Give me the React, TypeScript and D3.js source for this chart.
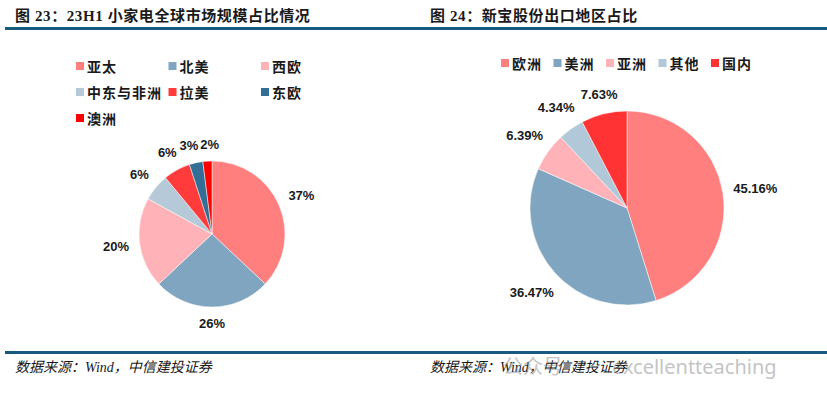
import React, { useEffect } from "react";
import * as d3 from "d3";

// 图23 data
const leftCategories = ["亚太", "北美", "西欧", "中东与非洲", "拉美", "东欧", "澳洲"];
const leftValues = [37, 26, 20, 6, 6, 3, 2];
const leftColors = ["#ff7f7f", "#7fa5c0", "#ffb3b8", "#b6c9d8", "#ff3b3b", "#336e96", "#ff0000"];

// 图24 data
const rightCategories = ["欧洲", "美洲", "亚洲", "其他", "国内"];
const rightValues = [45.16, 36.47, 6.39, 4.34, 7.63];
const rightColors = ["#ff7f7f", "#7fa5c0", "#ffb3b8", "#b0c8d8", "#ff3333"];

const width = 827;
const height = 398;
const ruleColor = "#175a80";
const titleFont = "'Liberation Serif', 'Noto Sans CJK SC', serif";
const cjkFont = "'Noto Sans CJK SC', sans-serif";
const labelFont = "'Liberation Sans', 'Open Sans', sans-serif";

// approx advance widths of bold 13px Liberation Sans
const textWidth = (s: string) =>
  s.split("").reduce((w, ch) => w + (ch === "%" ? 11.6 : ch === "." ? 3.6 : 7.3), 0);

type PieProps = {
  cx: number;
  cy: number;
  r: number;
  values: number[];
  colors: string[];
  fmt: (v: number) => string;
};

const Pie = ({ cx, cy, r, values, colors, fmt }: PieProps) => {
  const pie = d3.pie<number>().sort(null).value((d) => d);
  const arc = d3.arc<d3.PieArcDatum<number>>().innerRadius(0).outerRadius(r);
  const arcs = pie(values);

  // label boxes just outside the rim
  const labels = arcs.map((a) => {
    const text = fmt(a.data);
    const mid = (a.startAngle + a.endAngle) / 2;
    const sx = Math.sin(mid);
    const sy = -Math.cos(mid);
    const w = textWidth(text);
    const h = 12;
    const dist = r + 10 + (w / 2) * Math.abs(sx) + (h / 2) * Math.abs(sy);
    return { text, x: sx * dist, y: sy * dist, w, h };
  });
  // push apart neighbours that collide
  for (let i = 0; i < labels.length - 1; i++) {
    const a = labels[i];
    const b = labels[i + 1];
    const ox = (a.w + b.w) / 2 - Math.abs(a.x - b.x);
    const oy = (a.h + b.h) / 2 - Math.abs(a.y - b.y);
    if (ox > 0 && oy > 0) {
      const dir = a.x < b.x ? -1 : 1;
      a.x += (dir * (ox + 2)) / 2;
      b.x -= (dir * (ox + 2)) / 2;
    }
  }

  return (
    <g transform={`translate(${cx},${cy})`}>
      {arcs.map((a, i) => (
        <path key={i} d={arc(a) || ""} fill={colors[i]} stroke="#fff" strokeWidth={0.5} />
      ))}
      {labels.map((l, i) => (
        <text
          key={i}
          x={l.x}
          y={l.y}
          textAnchor="middle"
          dominantBaseline="central"
          fontFamily={labelFont}
          fontWeight="bold"
          fontSize={13}
          fill="#1a1a1a"
        >
          {l.text}
        </text>
      ))}
    </g>
  );
};

const legendText = {
  dominantBaseline: "central" as const,
  fontFamily: cjkFont,
  fontWeight: "bold",
  fontSize: 14,
  letterSpacing: 1,
  fill: "#1a1a1a",
};

const App = () => {
  useEffect(() => {
    document.body.style.margin = "0";
  }, []);

  return (
    <svg width={width} height={height} style={{ display: "block", background: "#fff" }}>
      {/* titles */}
      <text x={15} y={21} fontFamily={titleFont} fontWeight="bold" fontSize={15} letterSpacing={0.6} fill="#1a1a1a">
        图 23：23H1 小家电全球市场规模占比情况
      </text>
      <text x={430} y={21} fontFamily={titleFont} fontWeight="bold" fontSize={15} letterSpacing={0.6} fill="#1a1a1a">
        图 24：新宝股份出口地区占比
      </text>
      <rect x={5} y={27} width={width - 5} height={3} fill={ruleColor} />

      {/* left legend */}
      {leftCategories.map((c, i) => {
        const col = i % 3;
        const row = Math.floor(i / 3);
        const x = 76 + col * 92.5;
        const y = 66 + row * 26;
        return (
          <g key={c}>
            <rect x={x} y={y - 4} width={8} height={8} fill={leftColors[i]} />
            <text x={x + 11} y={y} {...legendText}>
              {c}
            </text>
          </g>
        );
      })}

      {/* right legend */}
      {rightCategories.map((c, i) => {
        const x = 501 + i * 52.5;
        const y = 63;
        return (
          <g key={c}>
            <rect x={x} y={y - 4} width={8} height={8} fill={rightColors[i]} />
            <text x={x + 11} y={y} {...legendText}>
              {c}
            </text>
          </g>
        );
      })}

      <Pie cx={212} cy={234} r={73} values={leftValues} colors={leftColors} fmt={(v) => `${v}%`} />
      <Pie cx={627} cy={208} r={97} values={rightValues} colors={rightColors} fmt={(v) => `${v.toFixed(2)}%`} />

      {/* footer */}
      <rect x={5} y={351} width={width - 5} height={3} fill={ruleColor} />
      <text x={15} y={372} fontFamily={titleFont} fontStyle="italic" fontSize={14} fill="#1a1a1a">
        数据来源：Wind，中信建投证券
      </text>
      <text x={430} y={372} fontFamily={titleFont} fontStyle="italic" fontSize={14} fill="#1a1a1a">
        数据来源：Wind，中信建投证券
      </text>

      {/* watermark */}
      <g opacity={0.5} fill="#8a8a8a" fontFamily="'Noto Sans', 'Noto Sans CJK SC', sans-serif" fontSize={20}>
        <text x={503} y={374}>公众号</text>
        <text x={612} y={374}>excellentteaching</text>
      </g>
    </svg>
  );
};

export default App;
